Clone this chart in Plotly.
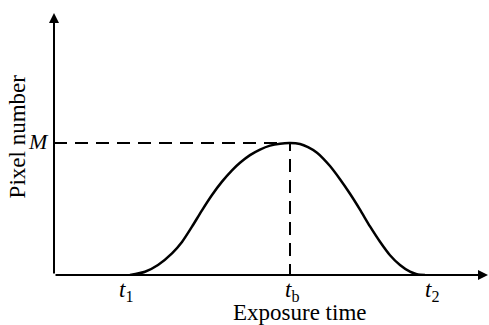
import plotly.graph_objects as go

# Curve (time in arbitrary units, pixel count with M = 100)
curve_t = [7.6, 9.1, 10.4, 11.8, 12.8, 13.8, 14.8, 15.8, 16.8, 17.8, 18.6,
           19.6, 20.6, 21.6, 22.6, 23.6, 24.6, 25.4, 26.3, 26.9, 27.6,
           28.6, 29.6, 30.6, 31.6, 32.6, 33.6, 34.6, 35.6, 36.2, 36.6, 37.1]
curve_n = [0, 2.5, 7.6, 16.4, 25, 36.6, 49, 60.6, 70.7, 79.3, 85,
           90.8, 95, 98, 99.5, 100, 99.2, 96.8, 92.6, 88.4, 82.5,
           72.5, 61.5, 49.5, 36.8, 25.2, 15, 7.6, 2.5, 0.8, 0.2, 0]

tick_pos = [7.6, 23.6, 37.6]
tick_labels = ["<i>t</i><sub>1</sub>", "<i>t</i><sub>b</sub>", "<i>t</i><sub>2</sub>"]
tick_shift = [-4, 2, 2]
tb = 23.6
M = 100
y_top = 198.5
x_end = 43.4

serif = "Liberation Serif"
fig = go.Figure()

fig.add_trace(go.Scatter(x=curve_t, y=curve_n, mode="lines",
                         line=dict(color="black", width=2.5, shape="spline", smoothing=0.6),
                         hoverinfo="skip", cliponaxis=False))
fig.add_trace(go.Scatter(x=[0, tb, tb], y=[M, M, 0], mode="lines",
                         line=dict(color="black", width=2, dash="13px,8px"),
                         hoverinfo="skip", cliponaxis=False))

ann = []
# axes with arrows
ann.append(dict(x=0, y=y_top, ax=0, ay=0, xref="x", yref="y", axref="x", ayref="y",
                showarrow=True, arrowhead=2, arrowsize=1, arrowwidth=2, arrowcolor="black", text=""))
ann.append(dict(x=x_end, y=0, ax=0, ay=0, xref="x", yref="y", axref="x", ayref="y",
                showarrow=True, arrowhead=2, arrowsize=1, arrowwidth=2, arrowcolor="black", text=""))
for xv, lab, sh in zip(tick_pos, tick_labels, tick_shift):
    ann.append(dict(x=xv, y=0, xref="x", yref="y", text=lab, showarrow=False,
                    yanchor="middle", yshift=-16, xshift=sh, borderpad=0,
                    font=dict(family=serif, size=23, color="black")))
ann.append(dict(x=0, y=M, xref="x", yref="y", text="<i>M</i>", showarrow=False,
                xanchor="right", xshift=-3, yshift=1, font=dict(family=serif, size=22, color="black")))
ann.append(dict(x=tb, y=0, xref="x", yref="y", text="Exposure time", showarrow=False,
                yanchor="middle", yshift=-37, xshift=10, borderpad=0,
                font=dict(family=serif, size=23, color="black")))
ann.append(dict(x=0, y=105, xref="paper", yref="y", text="Pixel number", showarrow=False,
                textangle=-90, xanchor="center", yanchor="middle", xshift=-37,
                font=dict(family=serif, size=23, color="black")))

fig.update_layout(
    width=489, height=325,
    margin=dict(l=54, r=0, t=0, b=50),
    paper_bgcolor="white", plot_bgcolor="white",
    showlegend=False,
    xaxis=dict(range=[0, 43.5], visible=False),
    yaxis=dict(range=[0, 208.3], visible=False),
    annotations=ann,
)
fig.write_html("out.html")
